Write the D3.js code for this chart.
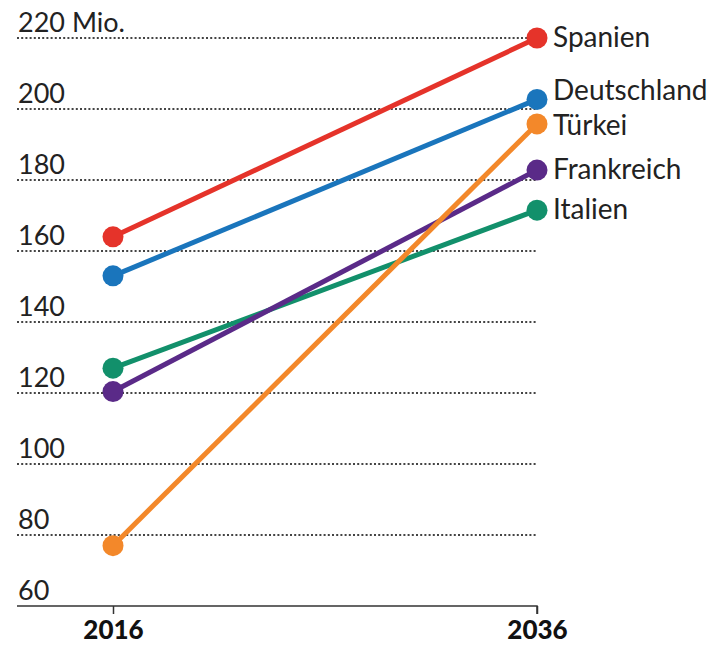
<!DOCTYPE html>
<html><head><meta charset="utf-8">
<script src="https://cdn.jsdelivr.net/npm/d3@7"></script>
<style>body{margin:0;background:#fff}svg{display:block}</style>
</head><body>
<svg id="c" width="713" height="645"></svg>
<script>
const years = ["2016", "2036"];
const countries = ["Spanien", "Deutschland", "Türkei", "Frankreich", "Italien"];
const values2016 = [164, 153, 77, 120.4, 127];
const values2036 = [220, 202.7, 195.8, 182.8, 171.5];
const colors = ["#e5332a", "#1a75bc", "#f3882a", "#5a2a88", "#12906b"];
const yTicks = [60, 80, 100, 120, 140, 160, 180, 200, 220];
const yTickLabels = ["60", "80", "100", "120", "140", "160", "180", "200", "220 Mio."];

const svg = d3.select("#c");
const x = d3.scalePoint().domain(years).range([113, 537]);
const y = d3.scaleLinear().domain([60, 220]).range([606, 38]);
const left = 17;

// gridlines
svg.append("g").selectAll("line").data(yTicks.slice(1)).join("line")
  .attr("x1", left).attr("x2", x("2036"))
  .attr("y1", d => y(d)).attr("y2", d => y(d))
  .attr("stroke", "#444").attr("stroke-width", 2).attr("stroke-dasharray", "2,2.2");

// y labels
svg.append("g").selectAll("text").data(yTicks).join("text")
  .attr("x", 18).attr("y", d => y(d) - 6)
  .attr("font-family", "Lato").attr("font-size", 27).attr("fill", "#222")
  .text((d, i) => yTickLabels[i]);

// x axis
const xAxis = d3.axisBottom(x).tickSize(8).tickPadding(7);
const gx = svg.append("g").attr("transform", `translate(0,${y(60)})`).call(xAxis);
gx.select(".domain").attr("d", `M${left},0H${x("2036")}V8`).attr("stroke", "#333").attr("stroke-width", 1.5);
gx.selectAll(".tick line").attr("stroke", "#333").attr("stroke-width", 1.5);
gx.selectAll(".tick text").attr("font-family", "Lato").attr("font-weight", "900")
  .attr("font-size", 26).attr("fill", "#111").attr("dy", "0.71em");

const data = countries.map((c, i) => ({name: c, color: colors[i], vals: [values2016[i], values2036[i]]}));
const line = d3.line().x((d, i) => x(years[i])).y(d => y(d));

const order = ["Italien", "Frankreich", "Deutschland", "Türkei", "Spanien"];
const sorted = order.map(n => data.find(d => d.name === n));

const g = svg.append("g");
sorted.forEach(s => {
  g.append("path").attr("d", line(s.vals)).attr("fill", "none")
    .attr("stroke", s.color).attr("stroke-width", 5);
  g.selectAll(null).data(s.vals).join("circle")
    .attr("cx", (d, i) => x(years[i])).attr("cy", d => y(d)).attr("r", 10.5)
    .attr("fill", s.color);
});

// label placement with simple collision avoidance
const labels = data.map(d => ({name: d.name, ly: y(d.vals[1]) - 1}))
  .sort((a, b) => a.ly - b.ly);
const minGap = 35;
for (let i = 1; i < labels.length; i++) {
  const gap = labels[i].ly - labels[i - 1].ly;
  if (gap < minGap) {
    const need = minGap - gap;
    labels[i - 1].ly -= need * 0.78;
    labels[i].ly += need * 0.22;
  }
}
svg.append("g").selectAll("text").data(labels).join("text")
  .attr("x", x("2036") + 16).attr("y", d => d.ly)
  .attr("dy", "0.36em")
  .attr("font-family", "Lato").attr("font-size", 28).attr("fill", "#222")
  .text(d => d.name);
</script>
</body></html>
